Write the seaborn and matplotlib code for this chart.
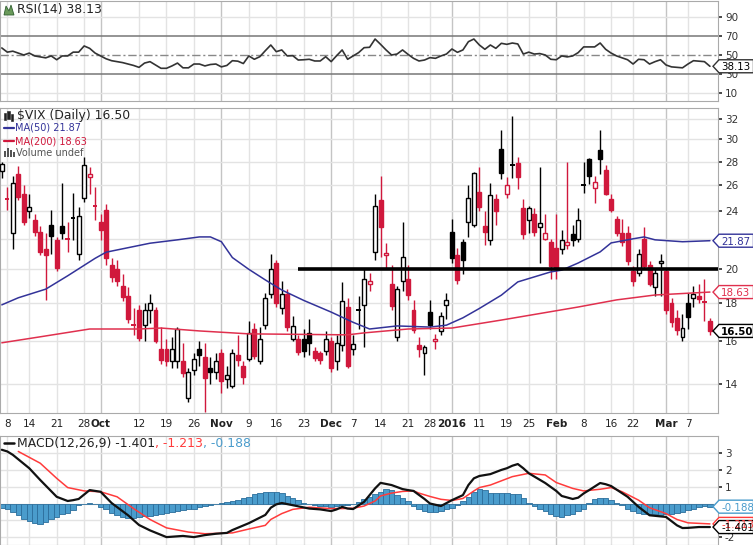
import numpy as np
import pandas as pd
import seaborn as sns
import matplotlib
matplotlib.use("Agg")
import matplotlib.pyplot as plt
from matplotlib.patches import Rectangle, Polygon

sns.set_theme(style="white")
plt.rcParams['font.family'] = ['DejaVu Sans']

# trading days on the chart (market holidays dropped)
holidays = ["2015-09-07", "2015-11-26", "2015-12-25", "2016-01-01", "2016-01-18", "2016-02-15"]
days = pd.bdate_range("2015-09-04", "2016-03-11")
days = days[~days.isin(pd.to_datetime(holidays))]
pos = {d: i for i, d in enumerate(days)}

def at(dates):
    return [pos[pd.Timestamp(d)] for d in dates]

# $VIX daily candles, Sep .. Mar
opens = [27.2, 25.0, 22.4, 26.9, 25.3, 24.0, 23.3, 22.5, 21.3, 23.0, 21.9, 22.9, 22.1, 23.5, 21.0, 25.0, 26.7, 24.5,
         23.2, 24.1, 20.3, 20.0, 19.0, 18.4, 16.9, 17.6, 16.8, 17.6, 17.6, 15.6, 15.6, 15.0, 15.0, 15.0, 13.4, 14.6, 15.6, 15.2, 14.7, 14.5,
         15.4, 14.2, 13.9, 15.3, 14.8, 15.1, 16.6, 15.0, 16.8, 18.5, 20.4, 17.7, 18.5, 16.1, 16.1, 16.1, 16.4, 15.5, 15.4, 15.5,
         16.0, 15.0, 15.8, 17.8, 15.6, 17.7, 17.9, 19.1, 21.1, 24.8, 20.9, 19.1, 16.2, 19.3, 19.4, 17.6, 15.8, 15.4, 17.5, 16.0, 16.5, 17.9,
         22.5, 20.9, 21.8, 23.2, 23.0, 25.5, 22.9, 21.9, 24.9, 29.1, 25.3, 27.6, 27.9, 24.2, 23.3, 23.8, 22.8, 22.0, 21.8,
         21.4, 21.3, 21.6, 22.3, 22.0, 26.0, 28.2, 25.8, 29.0, 27.3, 24.9, 23.4, 22.4, 22.4, 19.9, 19.8, 22.0, 20.3, 18.9, 20.4,
         19.9, 18.0, 17.2, 16.2, 18.0, 18.3, 18.4, 18.15, 17.0]
highs = [28.0, 25.9, 26.8, 27.6, 26.0, 25.3, 23.8, 22.9, 22.4, 24.1, 22.1, 26.2, 23.2, 25.4, 24.3, 28.4, 27.5, 25.9,
         23.8, 24.5, 20.7, 20.6, 19.7, 18.9, 17.7, 17.9, 18.0, 18.5, 17.8, 16.7, 16.1, 16.2, 16.7, 15.9, 14.7, 15.4, 16.0, 15.9, 15.2, 15.4,
         15.6, 14.8, 15.6, 16.3, 15.0, 17.0, 16.9, 16.7, 18.6, 21.0, 20.6, 19.3, 18.8, 17.3, 16.3, 16.6, 17.1, 15.7, 15.5, 16.5,
         16.2, 16.3, 19.2, 18.3, 16.3, 18.4, 20.0, 19.8, 25.3, 26.8, 21.7, 20.3, 19.0, 23.2, 20.3, 18.2, 16.2, 15.8, 18.2, 16.35, 17.5, 18.6,
         23.4, 21.4, 22.0, 26.0, 27.1, 27.5, 24.0, 26.2, 25.3, 30.9, 26.7, 32.3, 28.4, 24.9, 24.4, 24.2, 27.5, 23.8, 22.0,
         23.8, 22.6, 28.0, 23.0, 24.2, 28.0, 28.3, 26.8, 30.9, 27.7, 25.3, 23.6, 23.4, 22.9, 20.2, 21.3, 22.8, 20.5, 20.1, 21.0,
         20.0, 18.3, 17.6, 17.4, 18.6, 19.0, 19.1, 19.4, 17.2]
lows = [26.6, 24.1, 21.3, 24.8, 23.0, 23.5, 22.2, 20.9, 18.2, 21.0, 19.9, 22.0, 21.1, 21.9, 20.6, 24.7, 25.3, 23.3,
        21.9, 20.3, 19.2, 19.0, 18.1, 16.9, 16.3, 16.0, 16.0, 16.9, 15.9, 14.9, 14.8, 14.7, 14.7, 14.3, 13.2, 14.4, 14.8, 12.8, 14.0, 14.2,
        13.6, 13.8, 13.8, 14.8, 14.0, 15.0, 15.1, 14.9, 16.6, 18.3, 17.8, 17.4, 16.5, 16.0, 15.3, 15.2, 15.3, 15.0, 14.9, 15.3,
        14.5, 14.6, 15.5, 14.7, 15.3, 16.6, 15.7, 18.7, 20.6, 20.8, 20.0, 17.6, 16.0, 18.7, 18.2, 16.4, 15.2, 14.4, 16.6, 15.6, 16.3, 17.1,
        20.4, 19.1, 19.7, 22.1, 22.8, 24.0, 21.6, 21.6, 23.0, 26.5, 25.0, 26.6, 25.7, 22.0, 22.4, 22.2, 20.4, 21.9, 19.4,
        19.4, 21.0, 21.3, 21.5, 21.8, 25.4, 26.1, 24.6, 26.9, 25.2, 23.9, 22.2, 21.5, 20.3, 19.0, 19.6, 20.0, 19.0, 18.4, 18.4,
        17.4, 16.7, 16.3, 16.0, 16.6, 17.8, 18.0, 17.0, 16.3]
closes = [27.8, 24.9, 26.2, 25.1, 23.2, 24.3, 22.5, 21.1, 20.9, 22.2, 20.1, 22.4, 22.0, 23.5, 23.6, 27.7, 26.9, 24.4,
          22.6, 20.7, 19.5, 19.3, 18.35, 17.1, 16.8, 16.15, 17.6, 18.0, 16.0, 15.05, 15.0, 15.6, 16.6, 14.45, 14.5, 15.1, 15.3, 14.25, 14.5, 15.0,
          14.1, 14.4, 15.4, 15.05, 14.3, 16.4, 15.25, 16.1, 18.3, 20.0, 18.0, 18.5, 16.7, 16.75, 15.45, 15.5, 15.9, 15.15, 15.05, 16.1,
          14.7, 15.9, 18.1, 14.8, 15.85, 17.6, 19.4, 19.3, 24.4, 22.8, 21.05, 17.85, 18.8, 20.8, 18.45, 16.55, 15.6, 15.7, 16.8, 16.1, 17.3, 18.2,
          20.7, 19.35, 20.6, 25.0, 27.0, 24.3, 22.5, 25.2, 24.0, 27.0, 26.0, 27.7, 26.7, 22.3, 24.2, 22.5, 23.1, 22.4, 20.2,
          20.1, 21.95, 21.8, 21.9, 23.3, 26.05, 26.8, 26.3, 28.2, 25.3, 24.1, 22.4, 21.8, 20.5, 19.3, 21.0, 20.2, 19.1, 19.8, 20.55,
          17.6, 16.95, 16.55, 16.65, 17.25, 18.5, 18.25, 18.05, 16.5]

# moving averages, read at sample dates
ma50_dates = ["2015-09-04", "2015-09-10", "2015-09-17", "2015-09-23", "2015-09-30", "2015-10-02", "2015-10-14", "2015-10-21",
              "2015-10-27", "2015-10-29", "2015-11-02", "2015-11-04", "2015-11-09", "2015-11-12", "2015-11-17", "2015-11-23",
              "2015-12-01", "2015-12-07", "2015-12-10", "2015-12-17", "2015-12-28", "2015-12-31", "2016-01-06", "2016-01-11",
              "2016-01-15", "2016-01-21", "2016-01-29", "2016-02-02", "2016-02-05", "2016-02-11", "2016-02-16", "2016-02-22",
              "2016-02-24", "2016-02-26", "2016-03-04", "2016-03-11"]
ma50_vals = [17.9, 18.3, 18.8, 19.6, 20.7, 21.1, 21.7, 21.93, 22.13, 22.13, 21.8, 20.75, 20.0, 19.35, 18.75, 18.15,
             17.5, 16.95, 16.6, 16.76, 16.7, 16.8, 17.19, 17.7, 18.45, 19.23, 19.84, 19.95, 20.4, 21.12, 21.72, 22.0,
             22.13, 21.93, 21.8, 21.87]
ma200_dates = ["2015-09-04", "2015-09-16", "2015-09-29", "2015-10-12", "2015-10-16", "2015-10-27", "2015-11-04", "2015-11-09",
               "2015-12-04", "2015-12-09", "2015-12-21", "2016-01-04", "2016-01-15", "2016-02-05", "2016-02-17", "2016-02-26",
               "2016-03-11"]
ma200_vals = [15.9, 16.2, 16.6, 16.6, 16.65, 16.5, 16.4, 16.35, 16.3, 16.4, 16.6, 16.65, 17.07, 17.78, 18.18, 18.46, 18.63]

support_level = 20.0
support_from = "2015-11-20"

# RSI(14), daily
rsi = [57.4, 53, 54, 52, 50, 52, 49, 48, 47, 49, 45, 49, 49, 53, 53, 59.5, 57, 52,
       49, 46, 44, 43, 42, 40.5, 39, 37, 41.5, 43, 39.5, 36, 36, 38.5, 41.5, 36.5, 36.5, 40.5, 40.5, 38.5, 40, 40.5,
       37.5, 39, 44, 43.5, 41, 49, 45.5, 48.2, 54.5, 60.5, 53.5, 55.3, 49, 49.3, 44.7, 45, 45.5, 43.7, 43.7, 48.2,
       43, 49.3, 55.3, 45.5, 49, 52.5, 57.7, 58.1, 66.8, 61.2, 55.3, 50, 51, 55.3, 50.7, 46.5, 43.7, 44.7, 47.2, 46.5, 49, 51,
       56.3, 52.8, 55.3, 64, 66.8, 60.5, 56, 60.5, 57, 62.3, 61.2, 62.6, 61.6, 51, 53, 51, 51.5, 50, 45.5,
       45, 49, 48, 49, 52.5, 58.5, 58.5, 58.5, 62.6, 56, 52, 49, 47, 45, 40.5, 45.5, 45, 40.5, 43, 45,
       39.5, 37.5, 37, 36.5, 40.5, 44, 43.5, 43, 38.13]

# MACD(12,26,9)
macd_dates = ["2015-09-04", "2015-09-08", "2015-09-09", "2015-09-14", "2015-09-16", "2015-09-21", "2015-09-23", "2015-09-24",
              "2015-09-25", "2015-09-29", "2015-09-30", "2015-10-01", "2015-10-05", "2015-10-08", "2015-10-12", "2015-10-14",
              "2015-10-19", "2015-10-22", "2015-10-26", "2015-10-28", "2015-10-30", "2015-11-03", "2015-11-04", "2015-11-09",
              "2015-11-12", "2015-11-13", "2015-11-16", "2015-11-17", "2015-11-19", "2015-11-24", "2015-11-27", "2015-12-01",
              "2015-12-02", "2015-12-03", "2015-12-04", "2015-12-07", "2015-12-09", "2015-12-11", "2015-12-14", "2015-12-16",
              "2015-12-18", "2015-12-21", "2015-12-22", "2015-12-24", "2015-12-28", "2015-12-30", "2016-01-04", "2016-01-06",
              "2016-01-07", "2016-01-08", "2016-01-11", "2016-01-13", "2016-01-15", "2016-01-19", "2016-01-20", "2016-01-21",
              "2016-01-22", "2016-01-25", "2016-01-28", "2016-02-01", "2016-02-02", "2016-02-04", "2016-02-05", "2016-02-08",
              "2016-02-09", "2016-02-11", "2016-02-12", "2016-02-16", "2016-02-19", "2016-02-23", "2016-02-25", "2016-03-01",
              "2016-03-03", "2016-03-04", "2016-03-07", "2016-03-09", "2016-03-11"]
macd_vals = [3.2, 3.1, 2.9, 2.1, 1.4, 0.4, 0.15, 0.2, 0.27, 0.8, 0.75, 0.7, 0.03, -0.7, -1.28, -1.6,
             -2.0, -1.93, -2.0, -1.88, -1.8, -1.75, -1.58, -1.17, -0.68, -0.25, -0.05, 0.03, -0.1, -0.3, -0.35, -0.45,
             -0.35, -0.2, -0.3, -0.33, 0.1, 0.9, 1.23, 1.1, 0.86, 0.8, 0.75, 0.27, 0.0, -0.15, 0.2, 0.5,
             1.1, 1.5, 1.64, 1.75, 2.0, 2.1, 2.25, 2.35, 2.1, 1.8, 1.22, 0.75, 0.45, 0.27, 0.35, 0.6,
             0.8, 1.22, 1.15, 1.04, 0.4, -0.2, -0.7, -0.8, -1.3, -1.46, -1.45, -1.4, -1.401]
signal_dates = ["2015-09-10", "2015-09-16", "2015-09-21", "2015-09-23", "2015-09-28", "2015-10-01", "2015-10-06", "2015-10-09",
                "2015-10-14", "2015-10-19", "2015-10-23", "2015-10-28", "2015-11-04", "2015-11-09", "2015-11-12", "2015-11-13",
                "2015-11-17", "2015-11-19", "2015-11-24", "2015-12-01", "2015-12-03", "2015-12-07", "2015-12-09", "2015-12-11",
                "2015-12-14", "2015-12-16", "2015-12-18", "2015-12-22", "2015-12-23", "2015-12-28", "2015-12-30", "2016-01-04",
                "2016-01-06", "2016-01-08", "2016-01-11", "2016-01-13", "2016-01-15", "2016-01-20", "2016-01-25", "2016-01-28",
                "2016-02-01", "2016-02-04", "2016-02-08", "2016-02-11", "2016-02-16", "2016-02-18", "2016-02-23", "2016-02-25",
                "2016-03-01", "2016-03-03", "2016-03-07", "2016-03-11"]
signal_vals = [3.1, 2.4, 1.5, 0.95, 0.75, 0.7, 0.4, -0.3, -0.95, -1.45, -1.7, -1.8, -1.75, -1.52, -1.3, -0.95,
               -0.6, -0.35, -0.22, -0.3, -0.3, -0.28, -0.15, 0.15, 0.45, 0.62, 0.72, 0.75, 0.62, 0.42, 0.25, 0.18,
               0.3, 0.75, 0.95, 1.1, 1.35, 1.6, 1.8, 1.7, 1.25, 0.9, 0.75, 0.85, 0.95, 0.7, 0.2, -0.25,
               -0.6, -0.95, -1.15, -1.213]
hist = [-0.25, -0.35, -0.5, -0.7, -0.9, -1.05, -1.15, -1.2, -1.1, -0.9,
        -0.8, -0.65, -0.55, -0.4, -0.1, 0.0, 0.05, 0.0, -0.2, -0.3,
        -0.55, -0.7, -0.8, -0.85, -0.85, -0.8, -0.75, -0.75, -0.7, -0.6,
        -0.55, -0.5, -0.45, -0.4, -0.35, -0.3, -0.2, -0.15, -0.1, -0.05,
        0.05, 0.1, 0.15, 0.2, 0.3, 0.4, 0.55, 0.65, 0.7, 0.7,
        0.7, 0.6, 0.45, 0.35, 0.2, 0.05, -0.05, -0.1, -0.15, -0.15,
        -0.2, -0.15, -0.1, -0.1, -0.05, 0.1, 0.25, 0.4, 0.55, 0.7,
        0.85, 0.8, 0.5, 0.35, 0.15, -0.15, -0.3, -0.45, -0.5, -0.5,
        -0.45, -0.35, -0.25, -0.1, 0.15, 0.4, 0.7, 0.85, 0.8, 0.65,
        0.65, 0.6, 0.6, 0.55, 0.55, 0.3, 0.05, -0.15, -0.3, -0.45,
        -0.6, -0.75, -0.8, -0.7, -0.6, -0.45, -0.3, 0.05, 0.25, 0.35,
        0.3, 0.2, 0.05, -0.1, -0.3, -0.45, -0.55, -0.6, -0.65, -0.65,
        -0.7, -0.65, -0.6, -0.55, -0.5, -0.4, -0.3, -0.2, -0.15, -0.188]

tick_dates = ["2015-09-08", "2015-09-14", "2015-09-21", "2015-09-28", "2015-10-01", "2015-10-12", "2015-10-19", "2015-10-26",
              "2015-11-02", "2015-11-09", "2015-11-16", "2015-11-23", "2015-12-01", "2015-12-07", "2015-12-14", "2015-12-21",
              "2015-12-28", "2016-01-04", "2016-01-11", "2016-01-19", "2016-01-25", "2016-02-01", "2016-02-08", "2016-02-16",
              "2016-02-22", "2016-03-01", "2016-03-07"]
tick_labels = ["8", "14", "21", "28", "Oct", "12", "19", "26", "Nov", "9", "16", "23", "Dec", "7", "14", "21", "28",
               "2016", "11", "19", "25", "Feb", "8", "16", "22", "Mar", "7"]
month_labels = {"Oct", "Nov", "Dec", "2016", "Feb", "Mar"}

df = pd.DataFrame({"open": opens, "high": highs, "low": lows, "close": closes}, index=days)
df["x"] = np.arange(len(df))
df["rsi"] = rsi
df["macd_hist"] = hist

RED = "#d0183c"
BLUE = "#333399"
MA_RED = "#e0304e"
MACD_RED = "#ff3b3b"
HIST = "#4a9ccc"
GRID = "#e3e3e3"
GRID_M = "#c4c4c4"

W, H = 753, 545
fig = plt.figure(figsize=(W / 100, H / 100), dpi=100)

def box(top, bottom, left=0, right=718):
    return [left / W, 1 - bottom / H, (right - left) / W, (bottom - top) / H]

ax_rsi = fig.add_axes(box(1, 101))
ax_px = fig.add_axes(box(108, 413))
ax_macd = fig.add_axes(box(436, 545))

xt = at(tick_dates)
for ax in (ax_rsi, ax_px, ax_macd):
    ax.set_xlim(-0.33, 130.47)
    for x, lab in zip(xt, tick_labels):
        m = lab in month_labels
        ax.axvline(x, color=GRID_M if m else GRID, lw=1.0, zorder=0)
    ax.set_xticks(xt)
    ax.tick_params(axis="x", length=0)
    ax.yaxis.tick_right()
    ax.tick_params(axis="y", length=3, pad=2, labelsize=7.5, colors="#333333", direction="out")
    for s in ax.spines.values():
        s.set_color("#aaaaaa")
        s.set_linewidth(0.8)

# ---- RSI panel
ax_rsi.set_ylim(1.6, 106.8)
for v in (10, 90):
    ax_rsi.axhline(v, color=GRID, lw=1.0, zorder=0)
ax_rsi.axhline(70, color="#777777", lw=1.1, zorder=1)
ax_rsi.axhline(30, color="#777777", lw=1.1, zorder=1)
ax_rsi.axhline(50, color="#888888", lw=1.0, ls=(0, (6, 2, 1.5, 2)), zorder=1)
sns.lineplot(data=df, x="x", y="rsi", ax=ax_rsi, color="#333333", lw=1.2, zorder=3)
ax_rsi.set_yticks([10, 30, 50, 70, 90])
ax_rsi.set_xticklabels([])
ax_rsi.set_xlabel("")
ax_rsi.set_ylabel("")

# ---- price panel
ax_px.set_yscale("log")
ax_px.set_ylim(12.77, 33.1)
pticks = [14, 16, 18, 20, 22, 24, 26, 28, 30, 32]
for v in pticks:
    ax_px.axhline(v, color=GRID, lw=1.0, zorder=0)
ax_px.set_yticks(pticks)
# 22 sits under the MA(50) tag in the original
ax_px.set_yticklabels(["" if v == 22 else str(v) for v in pticks])
ax_px.yaxis.set_minor_locator(matplotlib.ticker.NullLocator())

prev = df["close"].shift(1).fillna(df["open"])
for x, o, h, l, c, p in zip(df["x"], df["open"], df["high"], df["low"], df["close"], prev):
    col = "black" if c >= p else RED
    ax_px.vlines(x, l, h, color=col, lw=1.0, zorder=3)
    lo, hi = min(o, c), max(o, c)
    if hi / lo < 1.006:
        ax_px.hlines(c, x - 0.4, x + 0.4, color=col, lw=1.4, zorder=4)
    else:
        fc = "white" if c > o else col
        ax_px.add_patch(Rectangle((x - 0.36, lo), 0.72, hi - lo, fc=fc, ec=col, lw=1.0, zorder=4))

sns.lineplot(x=at(ma50_dates), y=ma50_vals, ax=ax_px, color=BLUE, lw=1.1, zorder=5)
sns.lineplot(x=at(ma200_dates), y=ma200_vals, ax=ax_px, color=MA_RED, lw=1.1, zorder=5)
ax_px.hlines(support_level, at([support_from])[0], 130.47, color="black", lw=2.6, zorder=6)

ax_px.set_xticklabels(tick_labels)
ax_px.tick_params(axis="x", labelsize=7.5, pad=4, colors="#222222")
for t in ax_px.get_xticklabels():
    if t.get_text() in month_labels:
        t.set_fontweight("bold")
ax_px.set_xlabel("")
ax_px.set_ylabel("")

# ---- MACD panel
ax_macd.set_ylim(-2.47, 4.02)
for v in (-2, -1, 0, 1, 2, 3):
    ax_macd.axhline(v, color=GRID, lw=1.0, zorder=0)
ax_macd.bar(df["x"], df["macd_hist"], width=1.0, color=HIST, edgecolor="#2b6e9c", linewidth=0.6, zorder=2)
sns.lineplot(x=at(signal_dates), y=signal_vals, ax=ax_macd, color=MACD_RED, lw=1.1, zorder=3)
sns.lineplot(x=at(macd_dates), y=macd_vals, ax=ax_macd, color="#111111", lw=1.6, zorder=4)
ax_macd.set_yticks([-2, -1, 0, 1, 2, 3])
ax_macd.set_yticklabels(["-2", "", "", "1", "2", "3"])
ax_macd.set_xticklabels([])
ax_macd.set_xlabel("")
ax_macd.set_ylabel("")

# ---- value tags on the right (arrow-shaped boxes)
def tag(ax, v, s, ec, tc="black", bold=False):
    yc = ax.transData.transform((0, v))[1]      # display px from bottom
    hh = 6.5
    pts = [(713, yc), (719, yc + hh), (753.5, yc + hh), (753.5, yc - hh), (719, yc - hh)]
    fig.add_artist(Polygon([(px / W, py / H) for px, py in pts], closed=True,
                           fc="white", ec=ec, lw=1.0, zorder=10))
    fig.text(721 / W, yc / H, s, ha="left", va="center_baseline", fontsize=7.4, color=tc,
             fontweight="bold" if bold else "normal", zorder=11)

tag(ax_rsi, 38.13, "38.13", "#333333")
tag(ax_px, 21.87, "21.87", BLUE, BLUE)
tag(ax_px, 18.63, "18.63", MA_RED, MA_RED)
tag(ax_px, 16.50, "16.50", "black", "black", bold=True)
tag(ax_macd, -0.188, "-0.188", HIST, HIST)
tag(ax_macd, -1.213, "-1.213", MACD_RED, MACD_RED)
tag(ax_macd, -1.401, "-1.401", "black")

# ---- panel legends
def ftext(x, y, s, **kw):
    return fig.text(x / W, 1 - y / H, s, ha="left", va="center", **kw)

def fline(x0, x1, y, **kw):
    fig.add_artist(plt.Line2D([x0 / W, x1 / W], [1 - y / H, 1 - y / H], **kw))

# rsi icon
fig.add_artist(Polygon([[4 / W, 1 - 15 / H], [6 / W, 1 - 6 / H], [9 / W, 1 - 11 / H], [11 / W, 1 - 5 / H],
                        [14 / W, 1 - 15 / H]], closed=True, fc="#6a9a5a", ec="#2f5f2f", lw=0.6))
ftext(17, 10, "RSI(14) 38.13", fontsize=8.9, color="#222222")

# price icon (tiny candles)
for cx, y0, y1 in [(5, 113, 120), (8.5, 111, 119), (12, 114, 121)]:
    fig.add_artist(Rectangle((cx / W - 1.2 / W, 1 - y1 / H), 2.4 / W, (y1 - y0) / H, fc="#222222", ec="#222222", lw=0.4))
ftext(17, 116, "\\$VIX (Daily) 16.50", fontsize=8.9, color="#222222")
fline(4, 14, 128, color=BLUE, lw=1.6)
ftext(15, 128, "MA(50) 21.87", fontsize=7.0, color=BLUE)
fline(4, 14, 141, color=RED, lw=1.6)
ftext(15, 141, "MA(200) 18.63", fontsize=7.0, color=RED)
for cx, hgt in [(5, 6), (8, 9), (11, 7), (14, 5)]:
    fig.add_artist(Rectangle((cx / W - 1 / W, 1 - 157 / H), 2 / W, hgt / H, fc="#555555", ec="none"))
ftext(16, 153, "Volume undef", fontsize=7.0, color="#555555")

# macd legend, three colours
fline(4, 14, 443, color="#111111", lw=1.8)
t1 = ftext(17, 443, "MACD(12,26,9) -1.401", fontsize=8.9, color="#222222")
fig.canvas.draw()
r = fig.canvas.get_renderer()
x2 = t1.get_window_extent(renderer=r).x1
t2 = ftext(x2, 443, ", -1.213", fontsize=8.9, color=MACD_RED)
fig.canvas.draw()
x3 = t2.get_window_extent(renderer=r).x1
ftext(x3, 443, ", -0.188", fontsize=8.9, color=HIST)

fig.savefig("out.png", dpi=100)
